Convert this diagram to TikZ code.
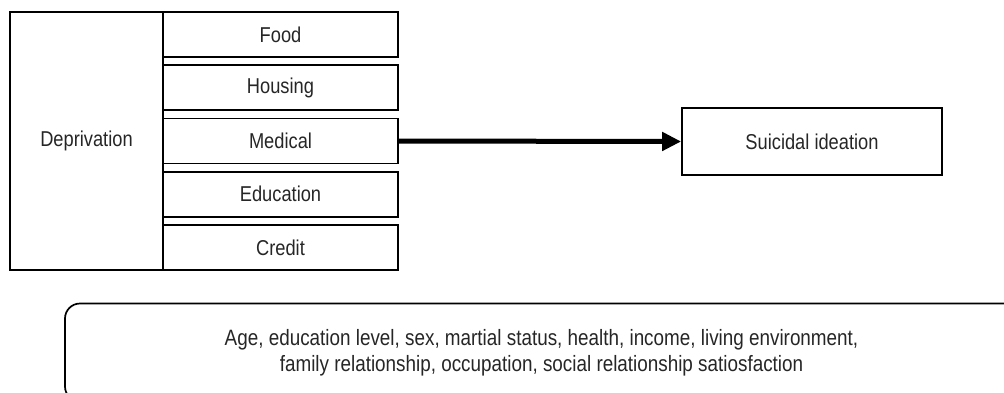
\documentclass[tikz,border=0pt]{standalone}
\usepackage{fontspec}
\setmainfont{Liberation Sans}[FakeStretch=0.85]
\usetikzlibrary{arrows.meta}
\begin{document}
\begin{tikzpicture}[x=1pt,y=-1pt,
  box/.style={draw, line width=1.7pt, inner sep=0pt, text=black!85,
    font=\fontsize{21.5}{26}\selectfont},
  itembox/.style={box, minimum width=235pt, minimum height=45pt},
  mainarrow/.style={line width=5pt, -{Triangle[length=19pt,width=18pt]}},
  covbox/.style={draw, line width=1.7pt, rounded corners=15pt, align=center,
    text=black!85, font=\fontsize{22.2}{26}\selectfont,
    minimum width=953pt, minimum height=98pt}]
\useasboundingbox (0,0) rectangle (1004,392);
\clip (0,0) rectangle (1004,392);

% deprivation and its five domains
\node[box, minimum width=153pt, minimum height=258pt] (dep) at (86.5,141) {Deprivation};
\node[itembox] (food) at (280.5,34.5)   {Food};
\node[itembox] (hous) at (280.5,87.75)  {Housing};
\node[itembox] (med)  at (280.5,141)    {Medical};
\node[itembox] (edu)  at (280.5,194.25) {Education};
\node[itembox] (cred) at (280.5,247.5)  {Credit};

% outcome
\node[box, minimum width=260pt, minimum height=67pt] (sui) at (812,141.5) {Suicidal ideation};
\draw[mainarrow] (med.east) -- (sui.west);

% covariates
\node[covbox] (cov) at (541.5,352.5)
  {Age, education level, sex, martial status, health, income, living environment,\\
   family relationship, occupation, social relationship satiosfaction};
\end{tikzpicture}
\end{document}
